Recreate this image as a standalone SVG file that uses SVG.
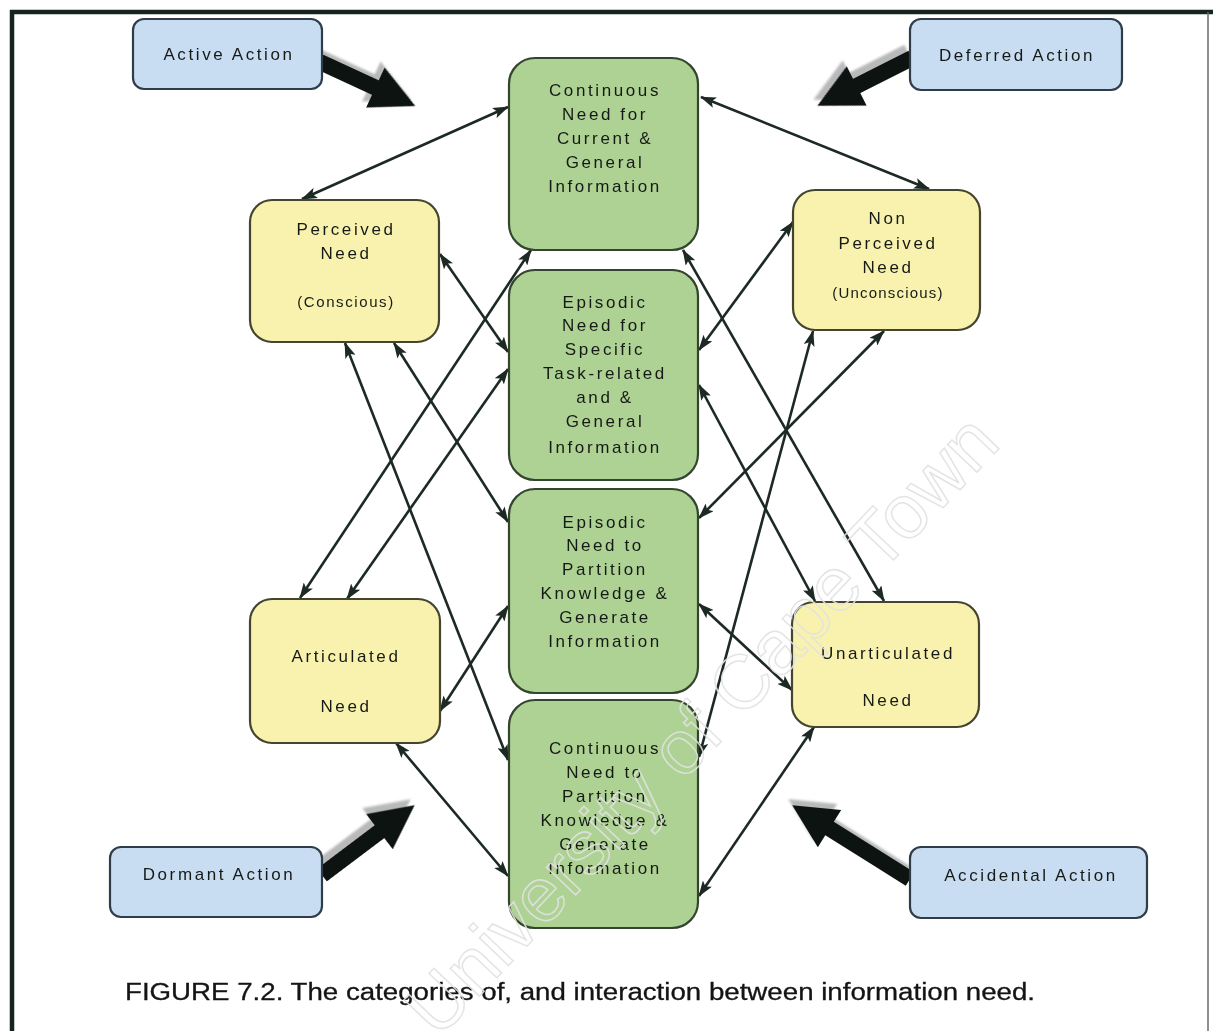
<svg xmlns="http://www.w3.org/2000/svg" width="1213" height="1031" viewBox="0 0 1213 1031">
<defs>
<style>
.t{font-family:"Liberation Sans",Arial,sans-serif;font-size:17px;letter-spacing:2.6px;fill:#161a16;text-anchor:middle}
.green rect{fill:#aed293;stroke:#34452f;stroke-width:2.2}
.yellow rect{fill:#f9f2ae;stroke:#45452f;stroke-width:2.2}
.blue rect{fill:#c9ddf2;stroke:#2f3d4a;stroke-width:2.2}
.conn line{stroke:#1d2a24;stroke-width:2.6;marker-start:url(#ah);marker-end:url(#ah)}
.blk{fill:#0d1310}
.shd{fill:#b9b9bb}
.cap{font-family:"Liberation Sans",Arial,sans-serif;font-size:23px;fill:#141414;stroke:#141414;stroke-width:0.3}
.wm{font-family:"Liberation Sans",Arial,sans-serif;font-size:76px;fill:none;stroke:#e2e2e2;stroke-width:1.5;opacity:0.9}
</style>
<marker id="ah" viewBox="0 0 16 11" refX="15" refY="5.5" markerWidth="16" markerHeight="11" markerUnits="userSpaceOnUse" orient="auto-start-reverse">
<path d="M0,0 L16,5.5 L0,11 L3.5,5.5 z" fill="#1d2a24"/>
</marker>
<filter id="bl" x="-20%" y="-20%" width="140%" height="140%"><feGaussianBlur stdDeviation="1.2"/></filter>
</defs>
<rect width="1213" height="1031" fill="#ffffff"/>
<g id="frame" fill="none">
<line x1="10" y1="12" x2="1213" y2="12" stroke="#17241d" stroke-width="4.5"/>
<line x1="12" y1="10" x2="12" y2="1031" stroke="#17241d" stroke-width="4.5"/>
<line x1="1208" y1="12" x2="1208" y2="1031" stroke="#6a6a6a" stroke-width="1.5"/>
</g>
<g id="connectors" class="conn">
<line x1="302" y1="199" x2="508" y2="107"/>
<line x1="701" y1="97" x2="929" y2="189"/>
<line x1="440" y1="254" x2="508" y2="352"/>
<line x1="531" y1="250" x2="300" y2="598"/>
<line x1="508" y1="369" x2="347" y2="599"/>
<line x1="345" y1="343" x2="508" y2="760"/>
<line x1="394" y1="343" x2="508" y2="522"/>
<line x1="440" y1="711" x2="508" y2="606"/>
<line x1="396" y1="743" x2="508" y2="876"/>
<line x1="683" y1="250" x2="884" y2="601"/>
<line x1="793" y1="222" x2="699" y2="350"/>
<line x1="699" y1="385" x2="815" y2="601"/>
<line x1="813" y1="331" x2="699" y2="757"/>
<line x1="884" y1="331" x2="699" y2="518"/>
<line x1="699" y1="604" x2="792" y2="690"/>
<line x1="814" y1="727" x2="699" y2="896"/>
</g>
<g id="action-arrows">
<g transform="translate(-4,-6)" class="shd" filter="url(#bl)">
<path transform="translate(320,62) rotate(24.8)" d="M0,-8 H61 V-22 L105,0 L61,22 V8 H0 z"/>
<path transform="translate(912,58) rotate(153.2)" d="M0,-8 H62 V-22 L106,0 L62,22 V8 H0 z"/>
<path transform="translate(322,875) rotate(-37)" d="M0,-8 H72 V-22 L116,0 L72,22 V8 H0 z"/>
<path transform="translate(910,879) rotate(-147.9)" d="M0,-8 H95 V-22 L139,0 L95,22 V8 H0 z"/>
</g>
<path class="blk" transform="translate(320,62) rotate(24.8)" d="M0,-8 H61 V-22 L105,0 L61,22 V8 H0 z"/>
<path class="blk" transform="translate(912,58) rotate(153.2)" d="M0,-8 H62 V-22 L106,0 L62,22 V8 H0 z"/>
<path class="blk" transform="translate(322,875) rotate(-37)" d="M0,-8 H72 V-22 L116,0 L72,22 V8 H0 z"/>
<path class="blk" transform="translate(910,879) rotate(-147.9)" d="M0,-8 H95 V-22 L139,0 L95,22 V8 H0 z"/>
</g>
<g id="active-action" class="blue">
<rect x="133" y="19" width="189" height="70" rx="11"/>
<text class="t" x="229" y="60">Active Action</text>
</g>
<g id="deferred-action" class="blue">
<rect x="910" y="19" width="212" height="71" rx="11"/>
<text class="t" x="1017" y="61">Deferred Action</text>
</g>
<g id="dormant-action" class="blue">
<rect x="110" y="847" width="212" height="70" rx="11"/>
<text class="t" x="219" y="880">Dormant Action</text>
</g>
<g id="accidental-action" class="blue">
<rect x="910" y="847" width="237" height="71" rx="11"/>
<text class="t" x="1031" y="881">Accidental Action</text>
</g>
<g id="continuous-current" class="green">
<rect x="509" y="58" width="189" height="192" rx="26"/>
<text class="t" x="605" y="96">Continuous</text>
<text class="t" x="605" y="120">Need for</text>
<text class="t" x="605" y="144">Current &amp;</text>
<text class="t" x="605" y="168">General</text>
<text class="t" x="605" y="192">Information</text>
</g>
<g id="episodic-task" class="green">
<rect x="509" y="270" width="189" height="210" rx="26"/>
<text class="t" x="605" y="308">Episodic</text>
<text class="t" x="605" y="331">Need for</text>
<text class="t" x="605" y="355">Specific</text>
<text class="t" x="605" y="379">Task-related</text>
<text class="t" x="605" y="403">and &amp;</text>
<text class="t" x="605" y="427">General</text>
<text class="t" x="605" y="453">Information</text>
</g>
<g id="episodic-partition" class="green">
<rect x="509" y="489" width="189" height="204" rx="26"/>
<text class="t" x="605" y="528">Episodic</text>
<text class="t" x="605" y="551">Need to</text>
<text class="t" x="605" y="575">Partition</text>
<text class="t" x="605" y="599">Knowledge &amp;</text>
<text class="t" x="605" y="623">Generate</text>
<text class="t" x="605" y="647">Information</text>
</g>
<g id="continuous-partition" class="green">
<rect x="509" y="700" width="189" height="228" rx="26"/>
<text class="t" x="605" y="754">Continuous</text>
<text class="t" x="605" y="778">Need to</text>
<text class="t" x="605" y="802">Partition</text>
<text class="t" x="605" y="826">Knowledge &amp;</text>
<text class="t" x="605" y="850">Generate</text>
<text class="t" x="605" y="874">Information</text>
</g>
<g id="perceived-need" class="yellow">
<rect x="250" y="200" width="189" height="142" rx="22"/>
<text class="t" x="346" y="235">Perceived</text>
<text class="t" x="346" y="259">Need</text>
<text class="t" x="346" y="307" style="font-size:15px;letter-spacing:1.6px">(Conscious)</text>
</g>
<g id="non-perceived-need" class="yellow">
<rect x="793" y="190" width="187" height="140" rx="22"/>
<text class="t" x="888" y="224">Non</text>
<text class="t" x="888" y="249">Perceived</text>
<text class="t" x="888" y="273">Need</text>
<text class="t" x="888" y="298" style="font-size:15px;letter-spacing:1.2px">(Unconscious)</text>
</g>
<g id="articulated-need" class="yellow">
<rect x="250" y="599" width="190" height="144" rx="22"/>
<text class="t" x="346" y="662">Articulated</text>
<text class="t" x="346" y="712">Need</text>
</g>
<g id="unarticulated-need" class="yellow">
<rect x="792" y="602" width="187" height="125" rx="22"/>
<text class="t" x="888" y="659">Unarticulated</text>
<text class="t" x="888" y="706">Need</text>
</g>
<text class="cap" x="125" y="1000" textLength="910" lengthAdjust="spacingAndGlyphs">FIGURE 7.2. The categories of, and interaction between information need.</text>
<text class="wm" transform="translate(438,1040) rotate(-46.5)" textLength="820" lengthAdjust="spacingAndGlyphs">University of Cape Town</text>
</svg>
